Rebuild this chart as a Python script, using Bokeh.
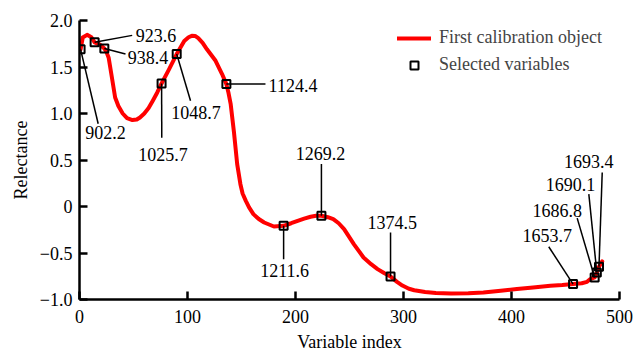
from bokeh.plotting import figure
from bokeh.models import (Range1d, FixedTicker, CustomJSTickFormatter, Legend, LegendItem)
from bokeh.core.properties import value
from bokeh.embed import file_html
from bokeh.resources import INLINE

# ---- data ----
curve_idx = [1, 3, 7, 11, 14, 19, 23, 25, 27, 30, 33, 36, 40, 44, 49, 53, 56, 60, 64, 68, 72,
             76, 83, 90, 97, 101, 104, 107, 110, 114, 118, 126, 132, 136, 138, 140, 143, 146,
             149, 151, 154, 157, 161, 166, 171, 180, 189, 196, 202, 208, 214, 219, 224, 230,
             235, 240, 245, 254, 263, 270, 276, 282, 288, 294, 299, 305, 310, 320, 330, 344,
             360, 374, 390, 405, 420, 436, 447, 457, 465, 470, 473, 477, 479, 481, 484]
curve_val = [1.69, 1.817, 1.846, 1.82, 1.765, 1.74, 1.70, 1.66, 1.60, 1.387, 1.172, 1.08,
             1.00, 0.95, 0.929, 0.935, 0.957, 1.00, 1.058, 1.14, 1.226, 1.323, 1.477, 1.639,
             1.78, 1.82, 1.835, 1.834, 1.81, 1.76, 1.69, 1.567, 1.424, 1.316, 1.22, 1.10, 0.80,
             0.456, 0.24, 0.14, 0.061, -0.01, -0.082, -0.135, -0.172, -0.215, -0.208, -0.18,
             -0.154, -0.13, -0.11, -0.10, -0.10, -0.115, -0.135, -0.18, -0.243, -0.404, -0.548,
             -0.62, -0.673, -0.715, -0.753, -0.81, -0.85, -0.885, -0.90, -0.92, -0.93, -0.935,
             -0.932, -0.925, -0.905, -0.888, -0.87, -0.853, -0.845, -0.834, -0.825, -0.81,
             -0.78, -0.763, -0.71, -0.648, -0.59]

sel_idx = [1, 14, 23, 76, 90, 136, 189, 224, 288, 457, 477, 479, 481]
sel_val = [1.69, 1.765, 1.70, 1.323, 1.639, 1.316, -0.208, -0.10, -0.753, -0.834, -0.763,
           -0.71, -0.648]
sel_names = ["902.2", "923.6", "938.4", "1025.7", "1048.7", "1124.4", "1211.6", "1269.2",
             "1374.5", "1653.7", "1686.8", "1690.1", "1693.4"]

x_ticks = [0, 100, 200, 300, 400, 500]
y_ticks = [-1.0, -0.5, 0.0, 0.5, 1.0, 1.5, 2.0]

# ---- annotation placement (data units) ----
label_x = [24.1, 70.8, 63.4, 77.3, 107.9, 197.7, 190.0, 223.1, 289.5, 433.0, 442.3, 454.6, 471.6]
label_y = [0.80, 1.835, 1.60, 0.563, 1.01, 1.298, -0.69, 0.572, -0.172, -0.31, -0.043, 0.237, 0.486]
lead_x = [17.3, 48.8, 42.6, 76.2, 102.8, 172.2, 189.0, 224.0, 288.0, 434.5, 460.8, 471.6, 484.0]
lead_y = [0.89, 1.84, 1.64, 0.739, 1.137, 1.316, -0.566, 0.456, -0.28, -0.433, -0.125, 0.133, 0.366]

FONT = "Liberation Serif"

p = figure(width=633, height=354, output_backend="svg", toolbar_location=None,
           x_range=Range1d(0, 500), y_range=Range1d(-1, 2))
p.min_border_left = 79
p.min_border_right = 14
p.min_border_top = 20
p.min_border_bottom = 55
p.outline_line_color = None
p.xgrid.visible = False
p.ygrid.visible = False
p.background_fill_color = "white"
p.border_fill_color = "white"

for ax in (p.xaxis[0], p.yaxis[0]):
    ax.axis_line_width = 2.5
    ax.axis_line_color = "black"
    ax.major_tick_line_width = 2.5
    ax.major_tick_in = 8
    ax.major_tick_out = 0
    ax.minor_tick_line_color = None
    ax.major_label_text_font = FONT
    ax.major_label_text_font_size = "18px"
    ax.major_label_text_color = "black"
    ax.axis_label_text_font = FONT
    ax.axis_label_text_font_size = "18px"
    ax.axis_label_text_font_style = "normal"
    ax.axis_label_text_color = "black"

p.xaxis.ticker = FixedTicker(ticks=x_ticks)
p.yaxis.ticker = FixedTicker(ticks=y_ticks)
p.yaxis.formatter = CustomJSTickFormatter(code="""
    if (Math.abs(tick) < 1e-9) return "0";
    var s = Math.abs(tick).toFixed(1);
    return tick < 0 ? "\u2212" + s : s;
""")
p.xaxis.axis_label = "Variable index"
p.yaxis.axis_label = "Relectance"
p.xaxis.major_label_standoff = 10
p.yaxis.major_label_standoff = 7
p.xaxis.axis_label_standoff = 6
p.yaxis.axis_label_standoff = 6

line = p.line(curve_idx, curve_val, line_color="#ff0000", line_width=4,
              line_join="round", line_cap="round")

p.segment(x0=sel_idx, y0=sel_val, x1=lead_x, y1=lead_y, line_color="black", line_width=1.5)

marks = p.scatter(sel_idx, sel_val, marker="square", size=8, fill_color=None,
                  line_color="black", line_width=2)

p.text(x=label_x, y=label_y, text=sel_names, text_align="center", text_baseline="middle",
       text_font=value(FONT), text_font_size="18px", text_color="black")

legend = Legend(items=[LegendItem(label="First calibration object", renderers=[line]),
                       LegendItem(label="Selected variables", renderers=[marks])],
                location=(318, 224), padding=0, margin=0, spacing=6,
                glyph_width=34, glyph_height=20, label_height=20, label_standoff=8,
                label_text_font=FONT, label_text_font_size="18px",
                border_line_color=None, background_fill_alpha=0)
p.add_layout(legend, "center")

open("out.html", "w").write(file_html(p, INLINE))
